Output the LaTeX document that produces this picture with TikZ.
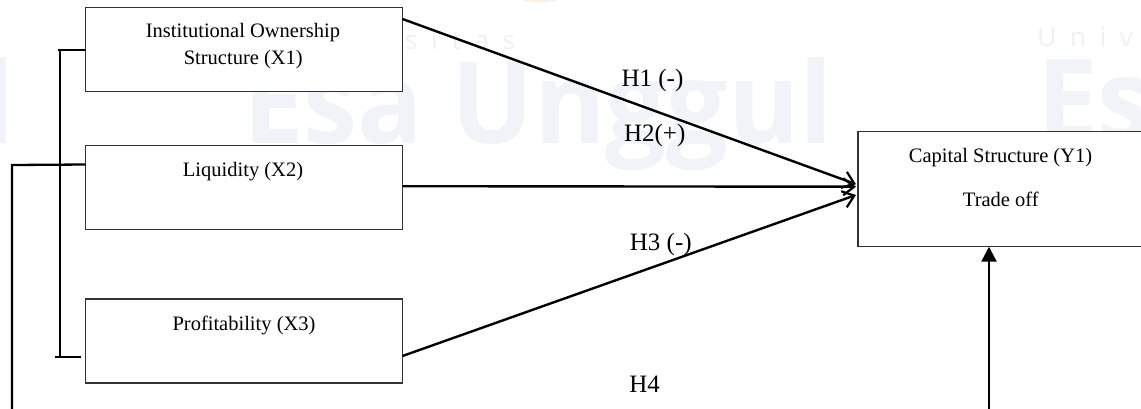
\documentclass[tikz,border=0pt]{standalone}
\usepackage{fontspec}
\setmainfont{Liberation Serif}
\newfontfamily\wmsans{Open Sans}
\newfontfamily\wmthin[LetterSpace=50]{Open Sans}
\usetikzlibrary{arrows.meta,calc}
\definecolor{wmblue}{RGB}{240,244,249}
\definecolor{wmgray}{RGB}{238,241,245}
\definecolor{wmorange}{RGB}{253,236,224}
\definecolor{boxline}{RGB}{50,50,50}

\begin{document}
\begin{tikzpicture}[x=1pt,y=-1pt,
  box/.style={draw=boxline, line width=1.3pt, fill=white, inner sep=0pt, outer sep=0pt,
              minimum width=317pt, minimum height=84pt},
  boxtxt/.style={anchor=base, inner sep=0pt, font=\fontsize{20.5}{24}\selectfont},
  hyp/.style={anchor=base, inner sep=0pt, font=\fontsize{25}{30}\selectfont},
  arr/.style={line width=2.4pt, -{Straight Barb[length=11pt, width=17pt, line width=2.2pt]}},
  brk/.style={line width=2pt},
  hfour/.style={line width=2.3pt},
  wm/.style={anchor=base west, inner sep=0pt, outer sep=0pt}
]
\useasboundingbox (0,0) rectangle (1141,408);
\fill[white] (0,0) rectangle (1141,408);

% faint repository watermark, repeated across the page
\foreach \dx/\dy/\k in {-818/0/a, 0/0/b, 794/-3/c}{
  \begin{scope}[shift={(\dx,\dy)}]
    \node[wm, text=wmgray] (wm-uni-\k) at (243,49)
      {\resizebox{272pt}{19pt}{\wmthin Universitas}};
    \node[wm, text=wmblue] (wm-esa-\k) at (243,143)
      {\resizebox{590pt}{86pt}{\wmsans\bfseries Esa Unggul}};
  \end{scope}
}
\fill[wmorange] (540,-3) ellipse [x radius=22, y radius=5];

% variable boxes
\node[box] (x1) at (244,49.5) {};
\node[box] (x2) at (244,187.5) {};
\node[box] (x3) at (244,341) {};
\node[box, minimum width=290pt, minimum height=115pt] (y1) at (1003,189.2) {};

% box captions
\node[boxtxt] (t1a) at (243,37.3) {Institutional Ownership};
\node[boxtxt] (t1b) at (243.3,64) {Structure (X1)};
\node[boxtxt] (t2) at (243,176.7) {Liquidity (X2)};
\node[boxtxt] (t3) at (244,330) {Profitability (X3)};
\node[boxtxt] (ty1) at (1000.5,162.3) {Capital Structure (Y1)};
\node[boxtxt] (ty2) at (1000.8,206.7) {Trade off};

% hypothesis paths
\draw[arr] ($(x1.north east)+(0,11.5)$) -- ($(y1.west)+(-2,-5)$);
\draw[arr] ($(x2.east)+(0,-1.3)$) -- ($(y1.west)+(-2,-2.5)$);
\draw[arr] ($(x3.east)+(0,15)$) -- ($(y1.west)+(-2,5.8)$);

\node[hyp] (h1) at (652.5,86) {H1 (-)};
\node[hyp] (h2) at (654.7,141.7) {H2(+)};
\node[hyp] (h3) at (660.8,250.7) {H3 (-)};
\node[hyp] (h4) at (644.7,392.7) {H4};

% bracket grouping the three independent variables
\coordinate (brk-tl) at (58,49.5);
\coordinate (brk-t) at (60,49.5);
\coordinate (brk-b) at (60,357);
\coordinate (brk-bl) at (55,357);
\coordinate (brk-br) at (81,357);
\draw[brk] (x1.west) -- (brk-tl);
\draw[brk] (brk-t) -- (brk-b);
\draw[brk] (brk-bl) -- (brk-br);

% simultaneous path H4
\coordinate (h4-start) at ($(x2.north west)+(0,19)$);
\coordinate (h4-corner) at (12,165);
\coordinate (h4-left) at (12,409);
\coordinate (h4-right) at (989,409);
\draw[hfour] (h4-start) -- (h4-corner) -- (h4-left);
\draw[hfour, -{Triangle[length=15pt, width=15pt]}] (h4-right) -- (h4-right |- y1.south);
\end{tikzpicture}
\end{document}
